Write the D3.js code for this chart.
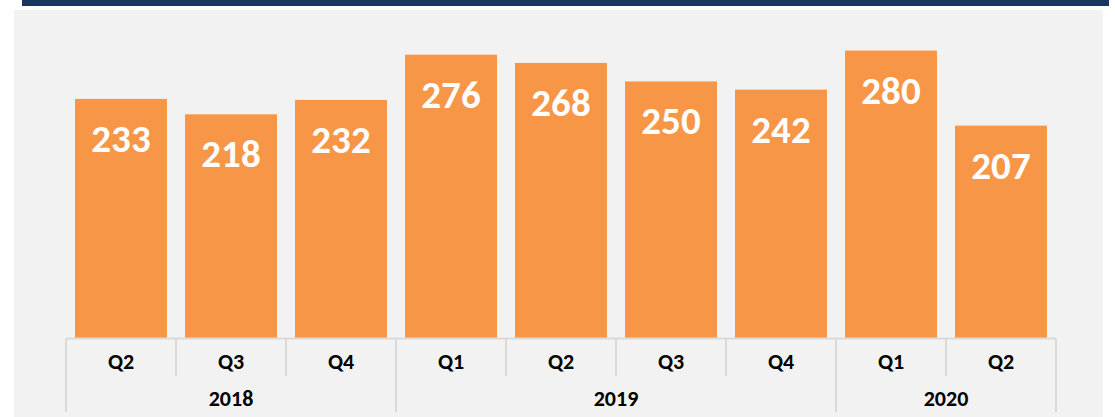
<!DOCTYPE html>
<html>
<head>
<meta charset="utf-8">
<script src="https://cdn.jsdelivr.net/npm/d3@7"></script>
<style>
  body { margin: 0; background: #ffffff; }
  svg { display: block; }
</style>
</head>
<body>
<script>
// chart data
const quarters = ["Q2", "Q3", "Q4", "Q1", "Q2", "Q3", "Q4", "Q1", "Q2"];
const years = ["2018", "2018", "2018", "2019", "2019", "2019", "2019", "2020", "2020"];
const values = [233, 218, 232, 276, 268, 250, 242, 280, 207];

const w = 1115;
const h = 417;

const svg = d3.select("body")
    .append("svg")
    .attr("width", w)
    .attr("height", h);

// navy rule on top
svg.append("rect")
    .attr("x", 22).attr("y", 0)
    .attr("width", 1087).attr("height", 6)
    .attr("fill", "#17375e");

// grey panel
svg.append("rect")
    .attr("x", 14).attr("y", 10)
    .attr("width", 1089).attr("height", 407)
    .attr("fill", "#f2f2f2");

const idx = values.map((d, i) => i);

const xScale = d3.scaleBand()
    .domain(idx)
    .range([66, 1056])
    .paddingInner(0.164)
    .paddingOuter(0.082);

const yScale = d3.scaleLinear()
    .domain([0, 300])
    .range([338.5, 30]);

const step = xScale.step();
const edge = i => 66 + i * step;

// bars
svg.selectAll("rect.bar")
    .data(values)
    .enter()
    .append("rect")
    .attr("class", "bar")
    .attr("x", (d, i) => xScale(i))
    .attr("y", d => yScale(d))
    .attr("width", xScale.bandwidth())
    .attr("height", d => yScale(0) - yScale(d))
    .attr("fill", "#f79646");

// value labels
svg.selectAll("text.val")
    .data(values)
    .enter()
    .append("text")
    .attr("class", "val")
    .attr("x", (d, i) => xScale(i) + xScale.bandwidth() / 2)
    .attr("y", d => yScale(d) + 53)
    .attr("text-anchor", "middle")
    .attr("fill", "#ffffff")
    .style("font-family", "Carlito, 'Open Sans', sans-serif")
    .style("font-weight", "bold")
    .style("font-size", "39px")
    .text(d => d);

// axis line
const axisY = yScale(0);
svg.append("line")
    .attr("x1", 66).attr("x2", 1056)
    .attr("y1", axisY).attr("y2", axisY)
    .attr("stroke", "#d9d9d9")
    .attr("stroke-width", 2);

// year groups
const groups = [];
years.forEach((y, i) => {
    const last = groups[groups.length - 1];
    if (last && last.year === y) last.end = i;
    else groups.push({ year: y, start: i, end: i });
});
const yearEdges = new Set(groups.map(g => g.start).concat([values.length]));

// quarter dividers (short) and year dividers (long)
d3.range(values.length + 1).forEach(i => {
    svg.append("line")
        .attr("x1", edge(i)).attr("x2", edge(i))
        .attr("y1", axisY)
        .attr("y2", yearEdges.has(i) ? 412 : 376)
        .attr("stroke", "#d9d9d9")
        .attr("stroke-width", 2);
});

// quarter labels
svg.selectAll("text.q")
    .data(quarters)
    .enter()
    .append("text")
    .attr("class", "q")
    .attr("x", (d, i) => xScale(i) + xScale.bandwidth() / 2)
    .attr("y", 369)
    .attr("text-anchor", "middle")
    .attr("fill", "#000000")
    .style("font-family", "Carlito, 'Open Sans', sans-serif")
    .style("font-weight", "bold")
    .style("font-size", "22px")
    .text(d => d);

// year labels
svg.selectAll("text.yr")
    .data(groups)
    .enter()
    .append("text")
    .attr("class", "yr")
    .attr("x", g => (edge(g.start) + edge(g.end + 1)) / 2)
    .attr("y", 406)
    .attr("text-anchor", "middle")
    .attr("fill", "#000000")
    .style("font-family", "Carlito, 'Open Sans', sans-serif")
    .style("font-weight", "bold")
    .style("font-size", "22px")
    .text(g => g.year);
</script>
</body>
</html>
